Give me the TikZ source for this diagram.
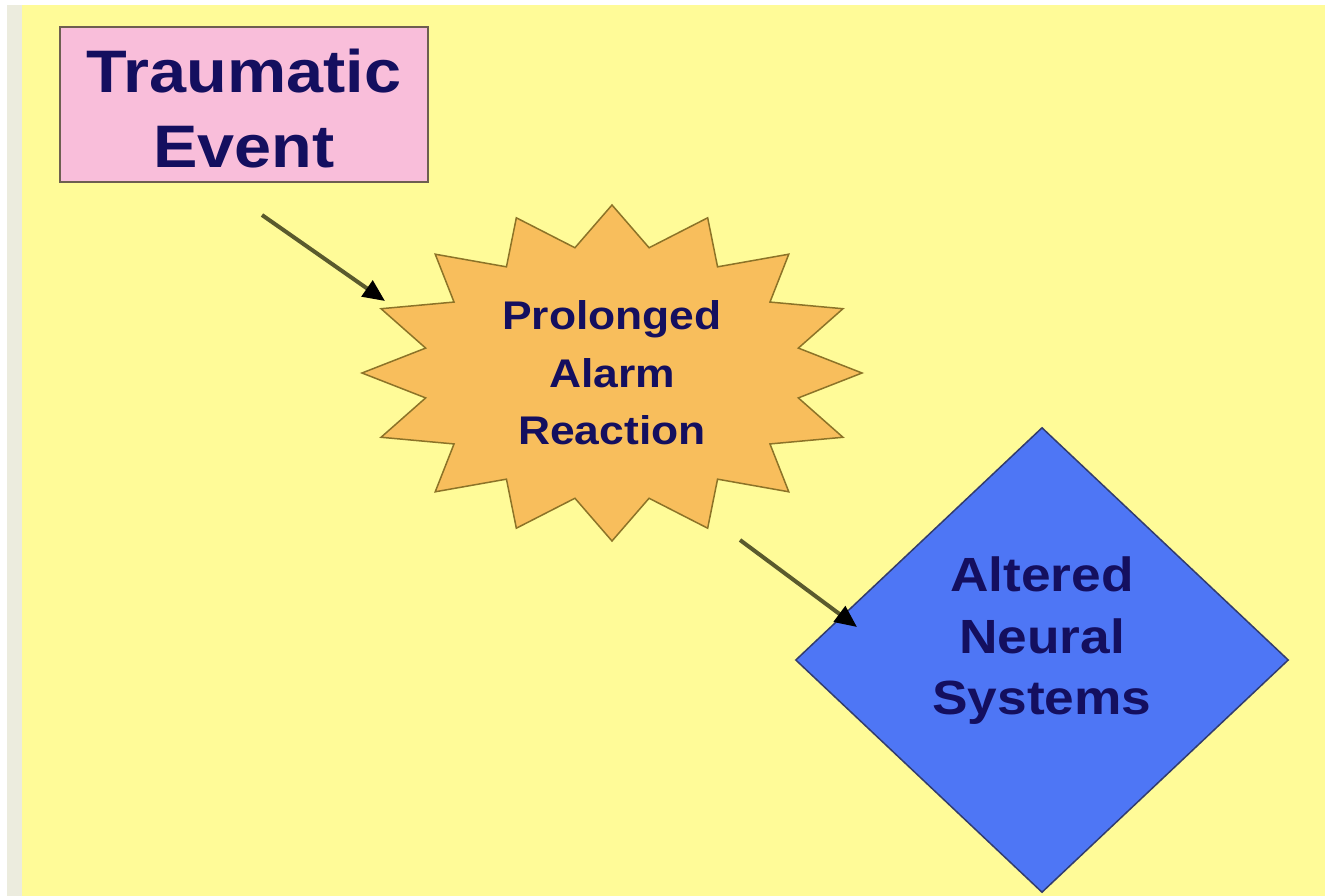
\documentclass[tikz,border=0pt]{standalone}
\usepackage{fontspec}
\setmainfont{Liberation Sans}[FakeStretch=1.11]
\usetikzlibrary{shapes.geometric,arrows.meta}
\definecolor{bgyellow}{RGB}{255,251,152}
\definecolor{edgegray}{RGB}{236,236,222}
\definecolor{boxpink}{RGB}{249,190,218}
\definecolor{boxedge}{RGB}{110,95,80}
\definecolor{starfill}{RGB}{248,190,92}
\definecolor{staredge}{RGB}{140,115,40}
\definecolor{diafill}{RGB}{78,118,245}
\definecolor{diaedge}{RGB}{50,60,110}
\definecolor{navytext}{RGB}{20,15,95}
\definecolor{arrowline}{RGB}{90,90,45}
\tikzset{
  tbox/.style={rectangle, draw=boxedge, line width=1.5pt, fill=boxpink,
    minimum width=368pt, minimum height=155pt, inner sep=0pt, align=center,
    text=navytext, font=\fontsize{60}{75}\selectfont\bfseries},
  starshape/.style={draw=staredge, line width=1.5pt, fill=starfill, line join=miter},
  startext/.style={inner sep=0pt, align=center, text=navytext,
    font=\fontsize{40}{57.5}\selectfont\bfseries},
  dbox/.style={diamond, draw=diaedge, line width=1.5pt, fill=diafill,
    minimum width=493pt, minimum height=465pt, inner sep=0pt, align=center,
    text=navytext, font=\fontsize{48}{61.5}\selectfont\bfseries},
  flow/.style={draw=arrowline, line width=4pt,
    -{Triangle[length=22pt,width=19pt,color=black]}}
}
\begin{document}
\begin{tikzpicture}[x=1pt,y=-1pt]
\useasboundingbox (0,0) rectangle (1325,896);
\fill[white] (0,0) rectangle (1325,896);
\fill[edgegray] (7,5) rectangle (22,896);
\fill[bgyellow] (22,5) rectangle (1325,896);
% box
\node[tbox] (te) at (244,104.5) {\rule{0pt}{51pt}Traumatic\\Event};
% star
\begin{scope}[shift={(612,373)}]
\draw[starshape] (0:250 and 168)
  \foreach \i in {0,...,15} { -- (\i*22.5+11.25:190 and 127.7) -- (\i*22.5+22.5:250 and 168) } -- cycle;
\end{scope}
\node[startext] (pa) at (612,373) {Prolonged\\Alarm\\Reaction};
% diamond
\node[dbox] (ns) at (1042,660) {Altered\\Neural\\Systems\rule[-48pt]{0pt}{48pt}};
% arrows
\coordinate (a1s) at (262,215);
\coordinate (a1e) at (385,301);
\coordinate (a2s) at (740,540);
\coordinate (a2e) at (857,627);
\draw[flow] (a1s) -- (a1e);
\draw[flow] (a2s) -- (a2e);
\end{tikzpicture}
\end{document}
